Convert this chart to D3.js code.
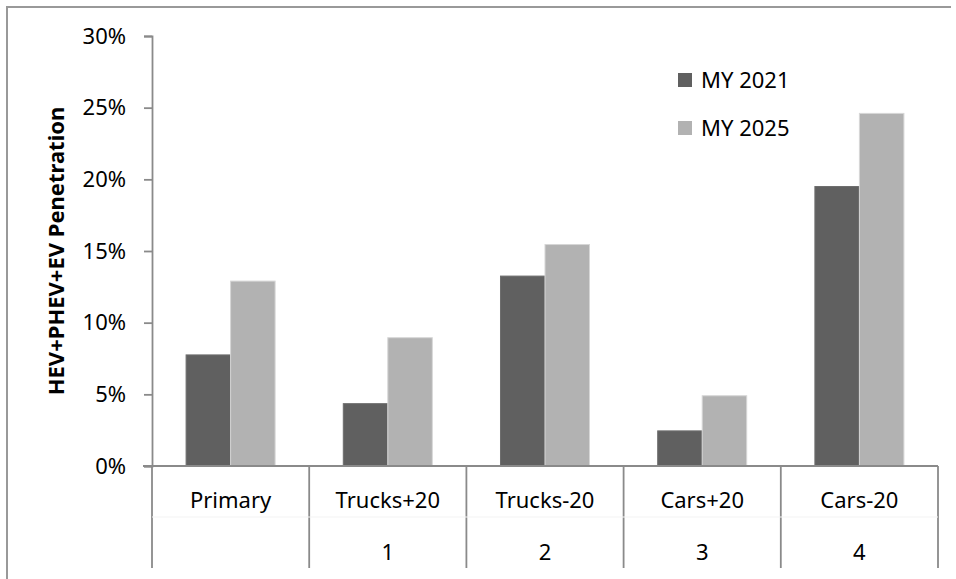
<!DOCTYPE html>
<meta charset="utf-8" />
<html lang="en">
  <head>
    <script src="https://d3js.org/d3.v7.min.js"></script>
    <style>
      body {
        margin: 0;
        background: #fff;
      }
      svg text {
        font-family: "Noto Sans", sans-serif;
        fill: #000;
      }
      .axis path,
      .axis line {
        stroke: #8a8a8a;
        stroke-width: 1.8px;
      }
    </style>
  </head>
  <body>
    <svg width="956" height="579"></svg>
    <script>
      var categories = ["Primary", "Trucks+20", "Trucks-20", "Cars+20", "Cars-20"];
      var caseNumbers = ["", "1", "2", "3", "4"];
      var series = ["MY 2021", "MY 2025"];
      var my2021 = [7.75, 4.35, 13.25, 2.45, 19.5];
      var my2025 = [12.9, 8.95, 15.45, 4.9, 24.6];
      var yTicks = [0, 5, 10, 15, 20, 25, 30];
      var colors = ["#606060", "#b2b2b2"];

      var svg = d3.select("svg");
      var margin = { left: 152, right: 18, top: 36, bottom: 113 };
      var width = 956, height = 579;

      // chart border (left and top edges show in the picture)
      svg.append("path")
        .attr("d", "M7,579V7H951")
        .attr("fill", "none")
        .attr("stroke", "#999")
        .attr("stroke-width", 2);

      var x = d3.scaleBand()
        .domain(categories)
        .range([margin.left, width - margin.right]);

      var x1 = d3.scaleBand()
        .domain(series)
        .range([0, x.bandwidth()])
        .paddingOuter(0.766);

      var y = d3.scaleLinear()
        .domain([0, 30])
        .range([height - margin.bottom, margin.top]);

      var rows = series.map(function(s, i) {
        return { name: s, values: i === 0 ? my2021 : my2025 };
      });

      // bars
      rows.forEach(function(r, i) {
        svg.append("g")
          .selectAll("rect")
          .data(r.values)
          .enter()
          .append("rect")
          .attr("x", (d, j) => x(categories[j]) + x1(r.name))
          .attr("y", d => y(d))
          .attr("width", x1.bandwidth())
          .attr("height", d => y(0) - y(d))
          .attr("fill", colors[i])
          .attr("stroke", i === 0 ? "#6e6e6e" : "#d6d6d6")
          .attr("stroke-width", 1);
      });

      // y axis
      var yAxis = svg.append("g")
        .attr("class", "axis")
        .attr("transform", "translate(" + margin.left + ",0)")
        .call(d3.axisLeft(y).tickValues(yTicks).tickSize(8).tickSizeOuter(8)
          .tickFormat(d => d + "%").tickPadding(18));
      yAxis.selectAll("text").style("font-size", "22px");

      // x axis with two-level category labels
      var base = y(0);
      var lowBottom = 568;
      var xg = svg.append("g").attr("class", "axis");
      xg.append("line")
        .attr("x1", margin.left - 9).attr("x2", width - margin.right)
        .attr("y1", base).attr("y2", base);

      var bounds = categories.map(c => x(c)).concat([x.range()[1]]);
      xg.selectAll("line.sep")
        .data(bounds)
        .enter()
        .append("line")
        .attr("class", "sep")
        .attr("x1", d => d).attr("x2", d => d)
        .attr("y1", base).attr("y2", lowBottom);

      // faint row divider
      svg.append("line")
        .attr("x1", margin.left).attr("x2", width - margin.right)
        .attr("y1", 517).attr("y2", 517)
        .attr("stroke", "#f3f3f3").attr("stroke-width", 1);

      svg.append("g")
        .selectAll("text")
        .data(categories)
        .enter()
        .append("text")
        .attr("x", d => x(d) + x.bandwidth() / 2)
        .attr("y", 508)
        .attr("text-anchor", "middle")
        .style("font-size", "22px")
        .text(d => d);

      svg.append("g")
        .selectAll("text")
        .data(caseNumbers)
        .enter()
        .append("text")
        .attr("x", (d, i) => x(categories[i]) + x.bandwidth() / 2)
        .attr("y", 560)
        .attr("text-anchor", "middle")
        .style("font-size", "22px")
        .text(d => d);

      // y title
      svg.append("text")
        .attr("transform", "translate(64," + (margin.top + base) / 2 + ") rotate(-90)")
        .attr("text-anchor", "middle")
        .style("font-size", "22px")
        .style("font-weight", "bold")
        .text("HEV+PHEV+EV Penetration");

      // legend
      var legend = svg.append("g")
        .selectAll("g")
        .data(series)
        .enter()
        .append("g")
        .attr("transform", (d, i) => "translate(678," + (73 + i * 48) + ")");
      legend.append("rect")
        .attr("width", 14).attr("height", 14)
        .attr("fill", (d, i) => colors[i]);
      legend.append("text")
        .attr("x", 23).attr("y", 15)
        .style("font-size", "22px")
        .text(d => d);
    </script>
  </body>
</html>
